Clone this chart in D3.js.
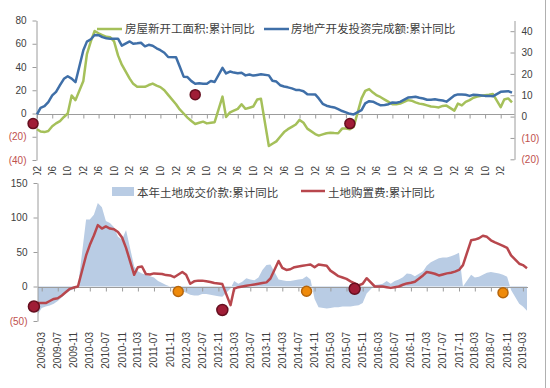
<!DOCTYPE html>
<html>
<head>
<meta charset="utf-8">
<script src="https://cdn.jsdelivr.net/npm/d3@7"></script>
<style>
  body { margin: 0; background: #fff; }
  svg { display: block; font-family: "Liberation Sans", Arial, sans-serif; }
  .cjk { font-family: "Noto Sans CJK SC", sans-serif; }
</style>
</head>
<body>
<div id="graf"></div>
<script>
//// DATOS (cumulative YoY %, monthly Feb..Dec, no January release)
const years = d3.range(2009, 2020)

// 房屋新开工面积:累计同比 (left axis, top chart)
const newStarts = [
  -13.5, -15.5, -16, -15, -11, -8.5, -6.5, -3, 0, 15.5, 11.5,
  28, 51, 62, 71, 69, 67.5, 66, 65.5, 62, 50, 42,
  30, 25.5, 23, 23, 23, 24.5, 25.7, 24, 22.7, 20, 16,
  8, 3.5, 0, -3.5, -6.5, -9, -8, -7, -8.5, -8, -7.5,
  14.5, -3, 1, 2.5, 4, 8, 4, 5, 6, 12, 12.6,
  -28, -26, -24, -20, -16, -13.5, -11.5, -9.5, -5.5, -8, -13,
  -17.7, -19, -18, -17, -16.5, -16.8, -17, -13, -13, -13.5, -11.5,
  13, 19.5, 21, 18, 15.5, 14, 12, 10, 8, 8, 8.5,
  11.5, 11, 9.6, 8.5, 8, 7, 6, 5.7, 5.2, 6.5, 6.8,
  2.5, 8.5, 7, 10, 11.5, 13.5, 14.5, 15.3, 15.8, 16.2, 16.8,
  5.5, 12, 13, 9.6
]

// 房地产开发投资完成额:累计同比 (right axis, top chart)
const investment = [
  1.0, 4.1, 4.9, 6.8, 9.9, 11.6, 14.7, 17.7, 18.9, 17.8, 16.1,
  31.1, 35.1, 36.2, 38.2, 38.1, 37.2, 36.7, 36.4, 36.5, 36.5, 33.2,
  35.2, 34.1, 34.3, 34.6, 32.9, 33.6, 33.2, 32.0, 31.1, 29.9, 27.9,
  27.8, 23.5, 18.7, 18.5, 16.6, 15.4, 15.6, 15.4, 15.4, 16.7, 16.2,
  22.8, 20.2, 21.1, 20.6, 20.3, 20.5, 19.3, 19.7, 19.2, 19.5, 19.8,
  19.3, 16.8, 16.4, 14.7, 14.1, 13.7, 13.2, 12.5, 12.4, 11.9, 10.5,
  10.4, 8.5, 6.0, 5.1, 4.6, 4.3, 3.5, 2.6, 2.0, 1.3, 1.0,
  3.0, 6.2, 7.2, 7.0, 6.1, 5.3, 5.4, 5.8, 6.6, 6.5, 6.9,
  8.9, 9.1, 9.3, 8.8, 8.5, 7.9, 7.9, 8.1, 7.8, 7.5, 7.0,
  9.9, 10.4, 10.3, 10.2, 9.7, 10.2, 10.1, 9.9, 9.7, 9.7, 9.5,
  11.6, 11.8, 11.9, 11.2
]

// 本年土地成交价款:累计同比 (area, bottom chart)
const landPrice = [
  -40, -31, -29, -27.5, -25, -21, -15.5, -10, -6, -3.5, -0.5,
  97, 97, 104, 121, 115, 95, 92, 86, 72, 68, 82,
  29, 22, 19, 17, 15, 13, 8, 5, 2, 0, -1.5,
  -7, -9, -12, -13, -13, -11, -11, -12, -13, -14, -15,
  -3, 8, 4, 7, 12, 10, 9, 13, 24, 31, 32,
  10, 9, 8, 8, 9, 10, 11, 15, 10, -18, -30,
  -32, -31, -30, -30, -29, -29, -29, -28, -27, -24, -10,
  2, 3, 4, 8, 4, 8, 10, 13.5, 19, 18, 15,
  22, 30, 35, 38, 41, 42, 42, 44, 46, 49, 0,
  17, 13, 14, 17, 20, 21, 20, 19, 17, 14, -5,
  -25, -29, -35
]

// 土地购置费:累计同比 (line, bottom chart)
const landCost = [
  -24, -24, -24, -21, -18, -17, -13, -8, -3.4, -1.5, 0,
  45, 60, 74, 89, 84, 87, 84, 83, 79, 71, 56,
  17, 28, 29, 18, 17.5, 19, 18.5, 18, 16.5, 16, 13.5,
  21, 17, 4, 7.5, 8.5, 8.5, 7.5, 6.5, 5, 4.5, 3.5,
  -27, -3, -1, 0, 1, 2, 3, 4, 5, 6, 11.6,
  37, 27, 24, 25, 28, 29, 30, 31, 32, 28, 32,
  30, 23, 19, 15, 13, 11, 7.5, 4.5, 1.5, 4, 12,
  0, 0, 0, -1, -2, -1, 0, 2.5, 4.5, 5.5, 7,
  16, 21, 20, 18.5, 16, 17.5, 19, 20, 21.5, 24, 31,
  67, 68, 70, 73.5, 72, 67, 64, 61.5, 59, 56, 45,
  33, 31, 26.5
]

// marcadores (month, value)
const topDots = [['2009-01', -8.7], ['2012-07', 16.2], ['2015-11', -8.7]]
const botDotsRed = [['2009-01', -29], ['2012-12', -34], ['2015-09', -3.3]]
const botDotsOrange = [['2012-01', -7.2], ['2014-09', -6.8], ['2018-10', -9.1]]

const leftTicks = [-40, -20, 0, 20, 40, 60, 80]
const rightTicks = [-20, -10, 0, 10, 20, 30, 40]
const botTicks = [-50, 0, 50, 100, 150]

const legendTop = ['房屋新开工面积:累计同比', '房地产开发投资完成额:累计同比']
const legendBot = ['本年土地成交价款:累计同比', '土地购置费:累计同比']

//// MESES
parse = d3.timeParse('%Y-%m')
fmt = d3.timeFormat('%Y-%m')
function monthsUntil(last) {
  out = []
  years.forEach(y => d3.range(2, 13).forEach(m => {
    k = `${y}-${String(m).padStart(2, '0')}`
    if (k <= last) out.push(parse(k))
  }))
  return out
}
topMonths = monthsUntil('2019-05')
botMonths = monthsUntil('2019-04')

topLabels = d3.range(0, 121, 4).map(i => d3.timeMonth.offset(parse('2009-02'), i))
botLabels = d3.range(0, 121, 4).map(i => d3.timeMonth.offset(parse('2009-03'), i))

//// COLORES
cGreen = '#a5c05a'
cBlue = '#3f6fa8'
cArea = '#b9cce4'
cRed = '#b8474d'
cAxis = '#9c9c9c'
cNeg = '#c0504d'
cText = '#404040'

//// SVG
svg = d3.select('#graf').append('svg')
  .attr('width', 550)
  .attr('height', 388)

negFmt = v => v < 0 ? `(${-v})` : `${v}`

function styleAxis(g) {
  g.select('.domain').attr('stroke', cAxis)
  g.selectAll('.tick line').attr('stroke', cAxis)
  g.selectAll('.tick text')
    .attr('font-size', 10)
    .attr('fill', d => d < 0 ? cNeg : cText)
}

//// GRÁFICO SUPERIOR
xTop = d3.scaleTime().domain([parse('2009-02'), parse('2019-05')]).range([37, 512])
yLeft = d3.scaleLinear().domain([-40, 80]).range([160, 20.5])
yRight = d3.scaleLinear().domain([-20, 45]).range([159.3, 20.5])

svg.append('g')
  .attr('transform', 'translate(36.5,0)')
  .call(d3.axisLeft(yLeft).tickValues(leftTicks).tickFormat(negFmt).tickSizeInner(4).tickSizeOuter(0).tickPadding(6))
  .call(styleAxis)

svg.append('g')
  .attr('transform', 'translate(514.5,0)')
  .call(d3.axisRight(yRight).tickValues(rightTicks).tickFormat(negFmt).tickSizeInner(-4).tickSizeOuter(0).tickPadding(7))
  .call(styleAxis)

y0Top = Math.round(yLeft(0)) + 0.5
svg.append('line')
  .attr('x1', 37).attr('x2', 514.5)
  .attr('y1', y0Top).attr('y2', y0Top)
  .attr('stroke', cAxis)
svg.append('g')
  .attr('transform', `translate(0,${y0Top})`)
  .call(d3.axisBottom(xTop).tickValues(topLabels).tickFormat('').tickSizeInner(4).tickSizeOuter(0))
  .call(g => g.select('.domain').remove())
  .call(styleAxis)

// etiquetas del eje x superior: cortadas por el gráfico inferior
svg.append('clipPath').attr('id', 'clipTop')
  .append('rect').attr('x', 0).attr('y', 163).attr('width', 550).attr('height', 12)
svg.append('g').attr('clip-path', 'url(#clipTop)')
  .selectAll('text').data(topLabels).join('text')
  .attr('transform', d => `translate(${xTop(d)},166) rotate(-90)`)
  .attr('text-anchor', 'end')
  .attr('dy', '0.35em')
  .attr('font-size', 10)
  .attr('fill', cText)
  .text(d => fmt(d))

topData = topMonths.map((d, i) => ({ date: d, ns: newStarts[i], inv: investment[i] }))

svg.append('path')
  .datum(topData)
  .attr('fill', 'none')
  .attr('stroke', cGreen)
  .attr('stroke-width', 2.5)
  .attr('stroke-linejoin', 'round')
  .attr('d', d3.line().x(d => xTop(d.date)).y(d => yLeft(d.ns)))

svg.append('path')
  .datum(topData)
  .attr('fill', 'none')
  .attr('stroke', cBlue)
  .attr('stroke-width', 2.5)
  .attr('stroke-linejoin', 'round')
  .attr('d', d3.line().x(d => xTop(d.date)).y(d => yRight(d.inv)))

// leyenda superior
legTop = svg.append('g').attr('class', 'cjk')
legTop.append('line').attr('x1', 97).attr('x2', 122).attr('y1', 29).attr('y2', 29)
  .attr('stroke', cGreen).attr('stroke-width', 2.5)
legTop.append('text').attr('x', 125).attr('y', 33).attr('font-size', 11.5).attr('fill', cText).text(legendTop[0])
legTop.append('line').attr('x1', 264).attr('x2', 289).attr('y1', 29).attr('y2', 29)
  .attr('stroke', cBlue).attr('stroke-width', 2.5)
legTop.append('text').attr('x', 291).attr('y', 33).attr('font-size', 11.5).attr('fill', cText).text(legendTop[1])

//// GRÁFICO INFERIOR
xBot = d3.scaleTime().domain([parse('2009-02'), parse('2019-04')]).range([38, 527])
yBot = d3.scaleLinear().domain([-50, 150]).range([321, 183])

botData = botMonths.map((d, i) => ({ date: d, price: landPrice[i], cost: landCost[i] }))

svg.append('path')
  .datum(botData)
  .attr('fill', cArea)
  .attr('d', d3.area().x(d => xBot(d.date)).y0(yBot(0)).y1(d => yBot(d.price)))

svg.append('g')
  .attr('transform', 'translate(37.5,0)')
  .call(d3.axisLeft(yBot).tickValues(botTicks).tickFormat(negFmt).tickSizeInner(4).tickSizeOuter(0).tickPadding(6))
  .call(styleAxis)

y0Bot = Math.round(yBot(0)) + 0.5
svg.append('line')
  .attr('x1', 38).attr('x2', 528)
  .attr('y1', y0Bot).attr('y2', y0Bot)
  .attr('stroke', cAxis)
svg.append('g')
  .attr('transform', `translate(0,${y0Bot})`)
  .call(d3.axisBottom(xBot).tickValues(botLabels).tickFormat('').tickSizeInner(4).tickSizeOuter(0))
  .call(g => g.select('.domain').remove())
  .call(styleAxis)

svg.append('g')
  .selectAll('text').data(botLabels).join('text')
  .attr('transform', d => `translate(${xBot(d)},332) rotate(-90)`)
  .attr('text-anchor', 'end')
  .attr('dy', '0.35em')
  .attr('font-size', 10)
  .attr('fill', cText)
  .text(d => fmt(d))

svg.append('path')
  .datum(botData)
  .attr('fill', 'none')
  .attr('stroke', cRed)
  .attr('stroke-width', 2.5)
  .attr('stroke-linejoin', 'round')
  .attr('d', d3.line().x(d => xBot(d.date)).y(d => yBot(d.cost)))

// leyenda inferior
legBot = svg.append('g').attr('class', 'cjk')
legBot.append('rect').attr('x', 112).attr('y', 187).attr('width', 22).attr('height', 9).attr('fill', cArea)
legBot.append('text').attr('x', 137).attr('y', 197).attr('font-size', 11.5).attr('fill', cText).text(legendBot[0])
legBot.append('line').attr('x1', 301).attr('x2', 325).attr('y1', 191).attr('y2', 191)
  .attr('stroke', cRed).attr('stroke-width', 2.5)
legBot.append('text').attr('x', 328).attr('y', 197).attr('font-size', 11.5).attr('fill', cText).text(legendBot[1])

//// MARCADORES
function dots(list, xs, ys, fill, stroke, r) {
  svg.append('g').selectAll('circle').data(list).join('circle')
    .attr('cx', d => xs(parse(d[0])))
    .attr('cy', d => ys(d[1]))
    .attr('r', r)
    .attr('fill', fill)
    .attr('stroke', stroke)
    .attr('stroke-width', 1.5)
}
dots(topDots, xTop, yLeft, '#a01d36', '#650f1f', 5)
dots(botDotsRed, xBot, yBot, '#a01d36', '#650f1f', 5.5)
dots(botDotsOrange, xBot, yBot, '#ef8a0a', '#b5650c', 5)

// borde derecho
svg.append('line')
  .attr('x1', 545.5).attr('x2', 545.5).attr('y1', 0).attr('y2', 388)
  .attr('stroke', '#b0b0b0')
</script>
</body>
</html>
